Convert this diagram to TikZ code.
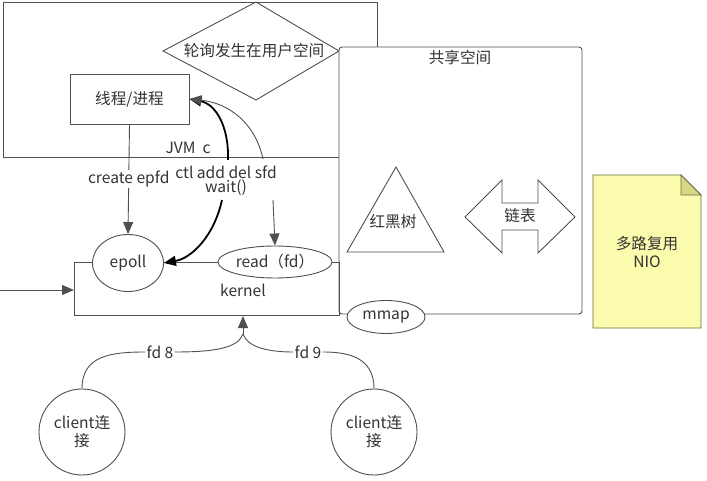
\documentclass[tikz,border=0pt]{standalone}
\usepackage{fontspec}
\setmainfont{Noto Sans CJK SC}
\usetikzlibrary{arrows.meta,shapes.geometric}
\definecolor{ln}{HTML}{505050}
\definecolor{tx}{HTML}{333333}
\definecolor{note}{HTML}{FBFBAE}
\definecolor{fold}{HTML}{D8D884}
\definecolor{noteln}{HTML}{6A6A40}
\tikzset{
  lbl/.style={text=tx, font=\fontsize{15.6}{18}\selectfont, inner sep=1pt},
  shp/.style={draw=ln, line width=0.9pt, fill=white},
  con/.style={draw=ln, line width=0.9pt},
  tip/.style={-{Triangle[length=12pt,width=10pt]}},
  oval/.style={shp, ellipse, inner sep=0pt, text=tx, font=\fontsize{15.6}{18}\selectfont},
}
\begin{document}
\begin{tikzpicture}[x=1pt,y=-1pt]
\useasboundingbox (0,0) rectangle (707,481);
% JVM box
\draw[con] (3,2) rectangle (377,157);
% diamond
\draw[shp] (163,51) -- (256,2) -- (339,51) -- (256,100) -- cycle;
\node[lbl] (poll) at (254,51) {轮询发生在用户空间};
% shared space
\draw[shp, rounded corners=3pt] (339,47) rectangle (582,314);
\node[lbl] (share) at (460,58) {共享空间};
% red-black tree
\draw[con] (396,167) -- (444,252) -- (347,252) -- cycle;
\node[lbl] (rbt) at (393,222) {红黑树};
% double arrow
\draw[con] (465,217) -- (502,180) -- (502,203) -- (538,203) -- (538,180) -- (575,217) -- (538,253) -- (538,230) -- (502,230) -- (502,253) -- cycle;
\node[lbl] (list) at (520,216) {链表};
% note
\draw[draw=noteln, line width=0.9pt, fill=note] (593,175) -- (681,175) -- (701,195) -- (701,328) -- (593,328) -- cycle;
\draw[draw=noteln, line width=0.9pt, fill=fold] (681,175) -- (681,195) -- (701,195) -- cycle;
\node[lbl, align=center] (nio) at (647,252) {多路复用\\NIO};
% kernel box
\draw[con] (74,262) rectangle (339,315);
\node[lbl] (kernel) at (243,290) {kernel};
% ovals
\node[oval, minimum width=71pt, minimum height=57pt] (epoll) at (128,263) {epoll};
\node[oval, minimum width=114pt, minimum height=32pt] (read) at (275,262) {read（fd）};
\node[oval, minimum width=78pt, minimum height=33pt] (mmap) at (386,317) {mmap};
% thread box
\node[shp, rectangle, minimum width=119pt, minimum height=50pt, text=tx, font=\fontsize{15.6}{18}\selectfont] (thread) at (129.5,99) {线程/进程};
% labels
\node[lbl] (jvm) at (188,148) {JVM\ \ c};
\node[lbl] (ctl) at (226,172) {ctl add del sfd};
\node[lbl] (wait) at (226,188) {wait()};
% create epfd
\draw[con, tip] (thread.south) -- node[lbl, fill=white, inner sep=1pt] (epfd) {create epfd} (epoll.north);
% curves to thread
\coordinate (c1) at (228,160);
\coordinate (c2) at (263,159);
\draw[draw=black, line width=1.8pt, tip] (c1) .. controls (229,125) and (215,104) .. (thread.east);
\draw[con, tip] (c2) .. controls (255,122) and (228,103) .. (thread.east);
% wait to epoll
\coordinate (w) at (222,200);
\draw[draw=black, line width=1.8pt, tip] (w) .. controls (214,236) and (192,258) .. (epoll.east);
% read arrow
\coordinate (r) at (273,200);
\draw[con, tip] (r) -- (read.north);
% left arrow
\coordinate (lin) at (0,290);
\coordinate (kl) at (74,290);
\draw[con, tip] (lin) -- (kl);
% clients
\node[shp, circle, minimum size=86pt, inner sep=0pt, align=center, text=tx, font=\fontsize{15.6}{18}\selectfont] (cl1) at (82,432) {client连\\接};
\node[shp, circle, minimum size=86pt, inner sep=0pt, align=center, text=tx, font=\fontsize{15.6}{18}\selectfont] (cl2) at (374,432) {client连\\接};
\node[lbl] (fd8) at (160,352) {fd 8};
\node[lbl] (fd9) at (308,352) {fd 9};
\coordinate (kb) at (243,316);
\coordinate (jn) at (243,334);
\draw[con] (cl1.north) .. controls (82,356) and (110,352) .. (fd8.west);
\draw[con] (fd8.east) .. controls (215,352) and (238,348) .. (jn);
\draw[con] (cl2.north) .. controls (374,356) and (346,352) .. (fd9.east);
\draw[con] (fd9.west) .. controls (270,352) and (248,348) .. (jn);
\draw[con, tip] (jn) -- (kb);
\end{tikzpicture}
\end{document}
